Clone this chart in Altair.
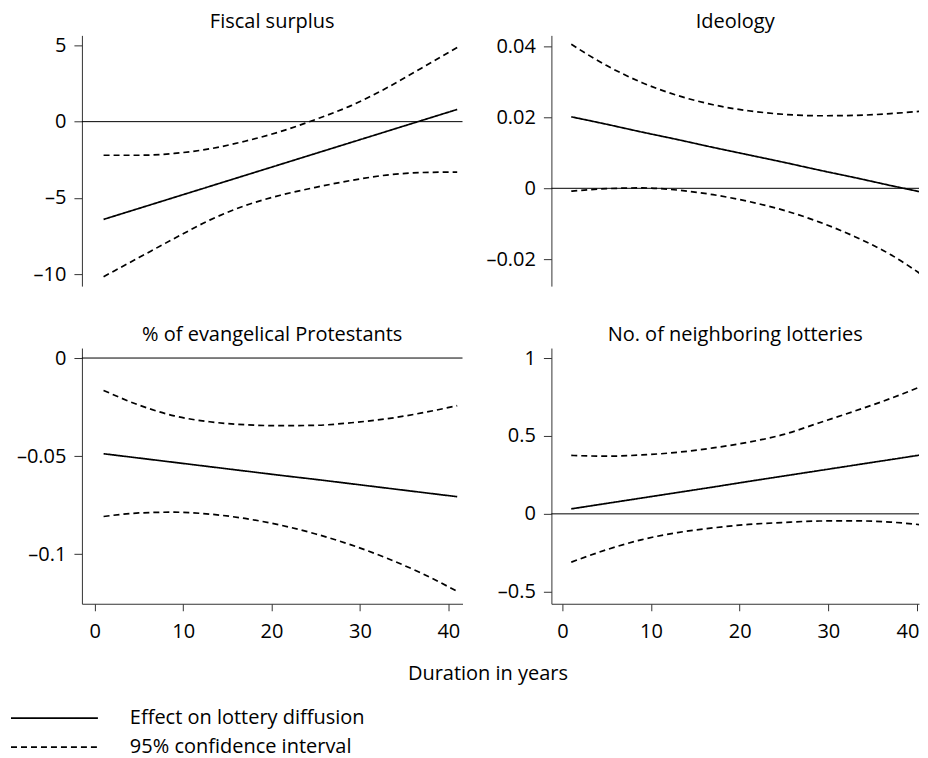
import altair as alt
import pandas as pd

# ---- data ----
years = [1, 5, 9, 13, 17, 21, 25, 29, 33, 37, 41]

panel_titles = ["Fiscal surplus", "Ideology",
                "% of evangelical Protestants", "No. of neighboring lotteries"]
series_labels = ["Effect on lottery diffusion", "95% confidence interval"]
x_title = "Duration in years"
x_ticks = [0, 10, 20, 30, 40]

fiscal_est = [-6.4, -5.68, -4.96, -4.24, -3.52, -2.8, -2.08, -1.36, -0.64, 0.08, 0.8]
fiscal_upper = [-2.2, -2.2, -2.08, -1.78, -1.28, -0.65, 0.15, 1.05, 2.2, 3.52, 4.85]
fiscal_lower = [-10.15, -8.9, -7.65, -6.45, -5.5, -4.82, -4.3, -3.85, -3.5, -3.33, -3.3]
fiscal_ticks = [5, 0, -5, -10]

ideology_est = [0.0201, 0.0180, 0.0158, 0.0137, 0.0115, 0.0094, 0.0073, 0.0051, 0.0030, 0.0008, -0.0013]
ideology_upper = [0.0405, 0.0345, 0.0297, 0.0261, 0.0235, 0.0218, 0.0208, 0.0204, 0.0205, 0.021, 0.0218]
ideology_lower = [-0.0008, -0.0001, 0.0001, -0.0005, -0.0018, -0.0037, -0.0062, -0.0095, -0.0136, -0.0186, -0.0251]
ideology_ticks = [0.04, 0.02, 0, -0.02]

evang_est = [-0.0488, -0.0510, -0.0532, -0.0554, -0.0576, -0.0598, -0.0619, -0.0641, -0.0663, -0.0685, -0.0707]
evang_upper = [-0.0165, -0.024, -0.0295, -0.0325, -0.034, -0.0345, -0.0343, -0.033, -0.031, -0.028, -0.0243]
evang_lower = [-0.0808, -0.079, -0.0786, -0.0796, -0.0818, -0.0852, -0.0897, -0.0953, -0.102, -0.1098, -0.119]
evang_ticks = [0, -0.05, -0.1]

lott_est = [0.032, 0.067, 0.102, 0.137, 0.172, 0.208, 0.243, 0.278, 0.313, 0.348, 0.383]
lott_upper = [0.375, 0.37, 0.378, 0.395, 0.423, 0.46, 0.51, 0.585, 0.66, 0.74, 0.83]
lott_lower = [-0.31, -0.23, -0.165, -0.12, -0.09, -0.068, -0.055, -0.046, -0.045, -0.053, -0.073]
lott_ticks = [1, 0.5, 0, -0.5]

FONT = "Open Sans"
FS = 20
AXIS_COLOR = "#333333"
LABEL_EXPR = "replace(format(datum.value, '~g'), '\u2212', '\u2013')"


def panel_df(est, upper, lower):
    rows = []
    for name, vals, ser in [("est", est, series_labels[0]),
                            ("upper", upper, series_labels[1]),
                            ("lower", lower, series_labels[1])]:
        for x, v in zip(years, vals):
            rows.append({"x": x, "v": v, "line": name, "series": ser})
    return pd.DataFrame(rows)


legend = alt.Legend(
    orient="none", legendX=-72, legendY=669, title=None,
    symbolType="stroke", symbolSize=7569, symbolStrokeWidth=1.6,
    symbolStrokeColor="black", labelFont=FONT, labelFontSize=FS,
    labelColor="black", labelOffset=31, labelLimit=0, clipHeight=29,
    rowPadding=0, padding=0,
)


def make_panel(title, df, ydomain, yticks, xdomain, width, height,
               show_x, xtitle=None, flush_end=False):
    if show_x:
        axis_kw = dict(values=x_ticks, tickSize=7, labelPadding=11, grid=False,
                       labelFont=FONT, labelFontSize=FS, labelColor="black",
                       domainColor=AXIS_COLOR, tickColor=AXIS_COLOR)
        if flush_end:
            axis_kw.update(labelFlush=5, labelFlushOffset=2)
        if xtitle:
            axis_kw.update(title=xtitle, titleX=-64, titleY=70,
                           titleAlign="center", titleBaseline="middle",
                           titleFont=FONT, titleFontSize=FS,
                           titleFontWeight="normal", titleColor="black")
        else:
            axis_kw.update(title=None)
        xaxis = alt.Axis(**axis_kw)
    else:
        xaxis = None
    x = alt.X("x:Q", scale=alt.Scale(domain=xdomain, nice=False, zero=False),
              axis=xaxis)
    y = alt.Y("v:Q", scale=alt.Scale(domain=ydomain, nice=False, zero=False),
              axis=alt.Axis(values=yticks, labelExpr=LABEL_EXPR, tickSize=8,
                            labelPadding=8, grid=False, title=None,
                            labelFont=FONT, labelFontSize=FS,
                            labelColor="black", domainColor=AXIS_COLOR,
                            tickColor=AXIS_COLOR))
    zero = alt.Chart(pd.DataFrame({"v": [0]})).mark_rule(
        color="black", strokeWidth=1).encode(y=alt.Y("v:Q"))
    lines = alt.Chart(df).mark_line(
        clip=True, interpolate="monotone", color="black", strokeWidth=1.7
    ).encode(
        x=x, y=y, detail="line:N",
        strokeDash=alt.StrokeDash(
            "series:N",
            scale=alt.Scale(domain=series_labels, range=[[1, 0], [6, 4]]),
            legend=legend),
    )
    return alt.layer(zero, lines).properties(
        width=width, height=height,
        title=alt.TitleParams(title, font=FONT, fontSize=FS,
                              fontWeight="normal", color="black",
                              anchor="middle", offset=3),
    )


p1 = make_panel(panel_titles[0], panel_df(fiscal_est, fiscal_upper, fiscal_lower),
                [-10.77, 5.65], fiscal_ticks, [-1.45, 41.6], 381, 251, False)
p2 = make_panel(panel_titles[1], panel_df(ideology_est, ideology_upper, ideology_lower),
                [-0.0275, 0.0430], ideology_ticks, [-1.24, 40.23], 368, 251, False)
p3 = make_panel(panel_titles[2], panel_df(evang_est, evang_upper, evang_lower),
                [-0.1253, 0.0051], evang_ticks, [-1.45, 41.6], 381, 256, True)
p4 = make_panel(panel_titles[3], panel_df(lott_est, lott_upper, lott_lower),
                [-0.577, 1.064], lott_ticks, [-1.24, 40.23], 368, 256, True,
                xtitle=x_title, flush_end=True)

chart = alt.ConcatChart(
    concat=[p1, p2, p3, p4], columns=2,
    spacing=alt.RowColnumber(row=62, column=89),
    bounds="flush",
).properties(
    padding={"left": 2, "top": 3, "right": 0, "bottom": 0}
).configure_view(stroke=None).configure_axis(grid=False)

chart.save("out.html", embed_options={"renderer": "svg", "actions": False})
